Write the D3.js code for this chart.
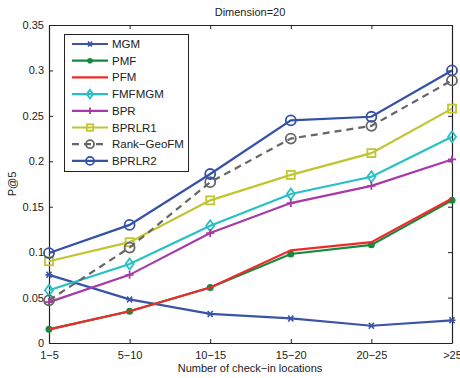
<!DOCTYPE html>
<html><head><meta charset="utf-8">
<script src="https://cdn.jsdelivr.net/npm/d3@7"></script>
<style>body{margin:0;background:#fff}svg{display:block}text{font-family:"Liberation Sans",Arial,sans-serif}</style>
</head><body><svg id="c" width="460" height="378"></svg>
<script>
const categories = ["1\u22125","5\u221210","10\u221215","15\u221220","20\u221225",">25"];
const yTicks = [0,0.05,0.1,0.15,0.2,0.25,0.3,0.35];
const yTickLabels = ["0","0.05","0.1","0.15","0.2","0.25","0.3","0.35"];
const seriesNames = ["MGM","PMF","PFM","FMFMGM","BPR","BPRLR1","Rank\u2212GeoFM","BPRLR2"];
const MGM = [0.075,0.048,0.032,0.027,0.019,0.025];
const PMF = [0.015,0.035,0.061,0.098,0.108,0.157];
const PFM = [0.015,0.035,0.061,0.102,0.111,0.159];
const FMFMGM = [0.058,0.087,0.129,0.164,0.183,0.227];
const BPR = [0.045,0.075,0.121,0.154,0.173,0.202];
const BPRLR1 = [0.090,0.111,0.157,0.185,0.209,0.258];
const RankGeoFM = [0.047,0.105,0.177,0.225,0.239,0.289];
const BPRLR2 = [0.099,0.130,0.186,0.245,0.249,0.300];

const series = [
 {name:seriesNames[0], v:MGM, color:"#3a55a8", marker:"star", dash:null},
 {name:seriesNames[1], v:PMF, color:"#168a3c", marker:"dot", dash:null},
 {name:seriesNames[2], v:PFM, color:"#ee2a2a", marker:"none", dash:null},
 {name:seriesNames[3], v:FMFMGM, color:"#27c1c4", marker:"diamond", dash:null},
 {name:seriesNames[4], v:BPR, color:"#a63aa6", marker:"plus", dash:null},
 {name:seriesNames[5], v:BPRLR1, color:"#c1c531", marker:"square", dash:null},
 {name:seriesNames[6], v:RankGeoFM, color:"#666666", marker:"circle", dash:"7,5"},
 {name:seriesNames[7], v:BPRLR2, color:"#3451a8", marker:"circle", dash:null}
];

const L=49,R=452,T=25,B=343;
const svg=d3.select("#c");
const x=d3.scalePoint().domain(categories).range([L,R]);
const y=d3.scaleLinear().domain([0,0.35]).range([B,T]);

// axes box
const ax=svg.append("g");
ax.append("g").attr("transform",`translate(0,${B})`).call(d3.axisBottom(x).tickSizeInner(-4).tickSizeOuter(0).tickPadding(8));
ax.append("g").attr("transform",`translate(0,${T})`).call(d3.axisTop(x).tickSizeInner(-4).tickSizeOuter(0).tickFormat(""));
ax.append("g").attr("transform",`translate(${L},0)`).call(d3.axisLeft(y).tickValues(yTicks).tickFormat((d,i)=>yTickLabels[i]).tickSizeInner(-4).tickSizeOuter(0).tickPadding(5));
ax.append("g").attr("transform",`translate(${R},0)`).call(d3.axisRight(y).tickValues(yTicks).tickFormat("").tickSizeInner(-4).tickSizeOuter(0));
ax.selectAll(".domain").attr("stroke","#222").attr("stroke-width",1.2);
ax.selectAll(".tick line").attr("stroke","#222");
ax.selectAll(".tick text").attr("font-size",11).attr("fill","#222");

const line=d3.line().x((d,i)=>x(categories[i])).y(d=>y(d));

function marker(g,type,color,cx,cy,scale){
  const s=scale||1;
  if(type==="dot") g.append("circle").attr("cx",cx).attr("cy",cy).attr("r",3.5*s).attr("fill",color);
  else if(type==="circle") g.append("circle").attr("cx",cx).attr("cy",cy).attr("r",5*s).attr("fill","none").attr("stroke",color).attr("stroke-width",1.8);
  else if(type==="square") g.append("rect").attr("x",cx-4*s).attr("y",cy-4*s).attr("width",8*s).attr("height",8*s).attr("fill","none").attr("stroke",color).attr("stroke-width",1.8);
  else if(type==="diamond") g.append("path").attr("d",`M${cx},${cy-5.5*s}L${cx+4*s},${cy}L${cx},${cy+5.5*s}L${cx-4*s},${cy}Z`).attr("fill","none").attr("stroke",color).attr("stroke-width",1.8);
  else if(type==="plus") g.append("path").attr("d",`M${cx-4*s},${cy}H${cx+4*s}M${cx},${cy-4*s}V${cy+4*s}`).attr("stroke",color).attr("stroke-width",1.8);
  else if(type==="star") g.append("path").attr("d",`M${cx-3.5*s},${cy}H${cx+3.5*s}M${cx-2.5*s},${cy-3*s}L${cx+2.5*s},${cy+3*s}M${cx-2.5*s},${cy+3*s}L${cx+2.5*s},${cy-3*s}`).attr("stroke",color).attr("stroke-width",1.6);
}

const plot=svg.append("g");
series.forEach(s=>{
  const g=plot.append("g");
  g.append("path").attr("d",line(s.v)).attr("fill","none").attr("stroke",s.color).attr("stroke-width",2.2).attr("stroke-dasharray",s.dash);
  s.v.forEach((d,i)=>marker(g,s.marker,s.color,x(categories[i]),y(d)));
});

// legend
const lg=svg.append("g");
lg.append("rect").attr("x",64.5).attr("y",34.5).attr("width",124).attr("height",137).attr("fill","#fff").attr("stroke","#222").attr("stroke-width",1);
series.forEach((s,i)=>{
  const yy=44+i*16.7;
  lg.append("line").attr("x1",72).attr("x2",108).attr("y1",yy).attr("y2",yy).attr("stroke",s.color).attr("stroke-width",2.2).attr("stroke-dasharray",s.dash);
  marker(lg,s.marker,s.color,90,yy,0.8);
  lg.append("text").attr("x",112).attr("y",yy+4).attr("font-size",11.5).attr("fill","#222").text(s.name);
});

svg.append("text").attr("x",250).attr("y",16).attr("text-anchor","middle").attr("font-size",11).attr("fill","#222").text("Dimension=20");
svg.append("text").attr("x",250).attr("y",372).attr("text-anchor","middle").attr("font-size",11).attr("fill","#222").text("Number of check\u2212in locations");
svg.append("text").attr("transform","translate(16,184) rotate(-90)").attr("text-anchor","middle").attr("font-size",11).attr("fill","#222").text("P@5");
</script></body></html>
